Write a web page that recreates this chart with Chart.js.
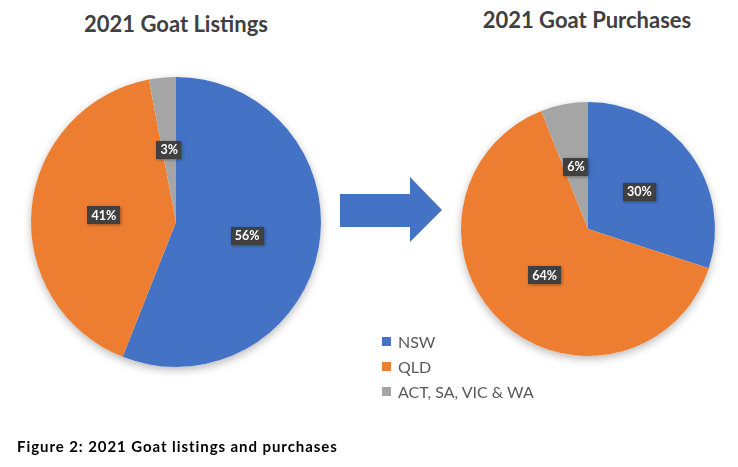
<!DOCTYPE html>
<html>
<head>
<meta charset="utf-8">
<script src="https://cdn.jsdelivr.net/npm/chart.js@4/dist/chart.umd.min.js"></script>
<style>
  html, body { margin:0; padding:0; background:#fff; }
  #wrap { position:relative; width:738px; height:467px; overflow:hidden; font-family: Lato, "Open Sans", sans-serif; }
  canvas { position:absolute; }
  .title { position:absolute; font-weight:700; color:#404040; white-space:nowrap; font-size:22px; line-height:22px; transform:translateX(-50%); }
  #legend { position:absolute; left:382px; top:329px; }
  .li { height:25px; display:flex; align-items:center; color:#595959; font-size:16px; }
  .sw { width:9px; height:9px; margin-right:7px; }
  #caption { position:absolute; left:17px; top:437px; font-weight:700; font-size:15px; color:#000; white-space:nowrap; }
</style>
</head>
<body>
<div id="wrap">
  <div class="title" id="t1" style="left:176px; top:13px;"></div>
  <div class="title" id="t2" style="left:587px; top:9px;"></div>
  <canvas id="c1" width="330" height="330" style="left:11px; top:57px;"></canvas>
  <canvas id="c2" width="294" height="294" style="left:441px; top:82px;"></canvas>
  <svg style="position:absolute; left:0; top:0;" width="738" height="467">
    <polygon points="340,194 410,194 410,177 442,210 410,242 410,227 340,227" fill="#4472C4"/>
  </svg>
  <div id="legend"></div>
  <div id="caption"></div>
</div>
<script>
const categories = ['NSW', 'QLD', 'ACT, SA, VIC & WA'];
const listings = [56, 41, 3];
const purchases = [30, 64, 6];
const colors = ['#4472C4', '#ED7D31', '#A5A5A5'];
const titles = ['2021 Goat Listings', '2021 Goat Purchases'];
const caption = 'Figure 2: 2021 Goat listings and purchases';

function fitWidth(el, target) {
  el.style.letterSpacing = '0px';
  const w = el.getBoundingClientRect().width;
  const n = el.textContent.length;
  if (n > 1) el.style.letterSpacing = ((target - w) / n) + 'px';
}

document.getElementById('t1').textContent = titles[0];
document.getElementById('t2').textContent = titles[1];
const cap = document.getElementById('caption');
cap.textContent = caption;
fitWidth(cap, 321);
const leg = document.getElementById('legend');
categories.forEach((c, i) => {
  const d = document.createElement('div'); d.className = 'li';
  const s = document.createElement('div'); s.className = 'sw'; s.style.background = colors[i];
  const t = document.createElement('span'); t.textContent = c;
  d.appendChild(s); d.appendChild(t); leg.appendChild(d);
});

const shadowPlugin = {
  id: 'pieShadow',
  beforeDatasetsDraw(chart) {
    const arc = chart.getDatasetMeta(0).data[0];
    if (!arc) return;
    const ctx = chart.ctx;
    ctx.save();
    ctx.shadowColor = 'rgba(0,0,0,0.28)';
    ctx.shadowBlur = 9;
    ctx.shadowOffsetY = 3;
    ctx.fillStyle = '#ffffff';
    ctx.beginPath();
    ctx.arc(arc.x, arc.y, arc.outerRadius, 0, Math.PI * 2);
    ctx.fill();
    ctx.restore();
  }
};

const labelPlugin = {
  id: 'boxLabels',
  afterDatasetsDraw(chart) {
    const ctx = chart.ctx;
    const meta = chart.getDatasetMeta(0);
    const vals = chart.data.datasets[0].data;
    meta.data.forEach((arc, i) => {
      const p = arc.getCenterPoint();
      const txt = vals[i] + '%';
      ctx.save();
      ctx.font = 'bold 12.5px Lato, "Open Sans", sans-serif';
      const w = ctx.measureText(txt).width + 8;
      const h = 18;
      ctx.shadowColor = 'rgba(0,0,0,0.35)';
      ctx.shadowBlur = 3;
      ctx.shadowOffsetX = 1;
      ctx.shadowOffsetY = 1;
      ctx.fillStyle = '#404040';
      ctx.fillRect(Math.round(p.x - w / 2), Math.round(p.y - h / 2), Math.round(w), h);
      ctx.shadowColor = 'transparent';
      ctx.fillStyle = '#ffffff';
      ctx.textAlign = 'center';
      ctx.textBaseline = 'middle';
      ctx.fillText(txt, p.x, p.y + 0.5);
      ctx.restore();
    });
  }
};

function makePie(id, data, pad) {
  return new Chart(document.getElementById(id), {
    type: 'pie',
    data: { labels: categories, datasets: [{ data: data, backgroundColor: colors, borderWidth: 0, hoverOffset: 0 }] },
    options: {
      responsive: false,
      animation: false,
      layout: { padding: pad },
      plugins: { legend: { display: false }, tooltip: { enabled: false }, title: { display: false } }
    },
    plugins: [shadowPlugin, labelPlugin]
  });
}
makePie('c1', listings, 20);
makePie('c2', purchases, 20);
</script>
</body>
</html>
